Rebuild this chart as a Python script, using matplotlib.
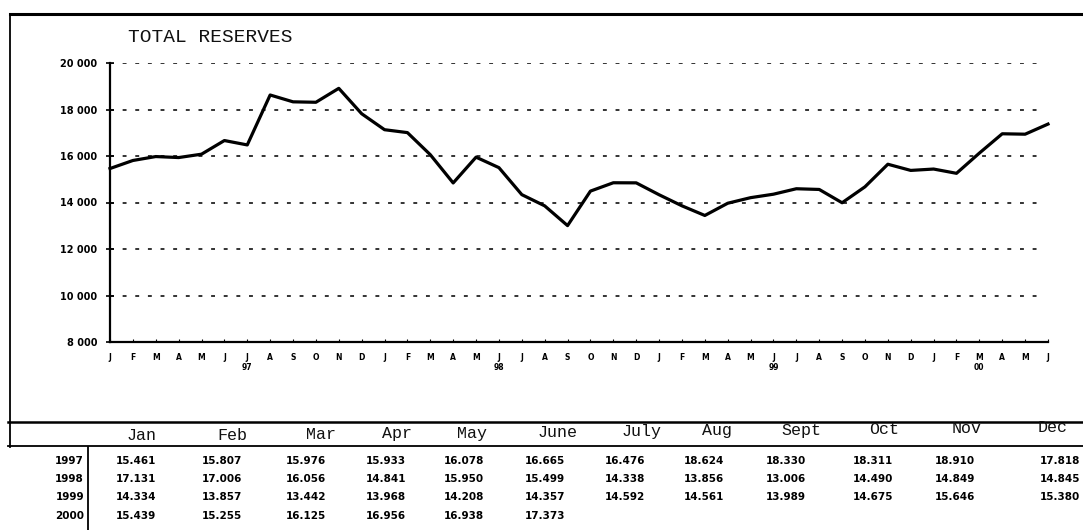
import matplotlib
matplotlib.use("Agg")
import matplotlib.pyplot as plt
from matplotlib.lines import Line2D

# ---------------- data ----------------
years = ["1997", "1998", "1999", "2000"]
months = ["Jan", "Feb", "Mar", "Apr", "May", "June", "July", "Aug", "Sept", "Oct", "Nov", "Dec"]
month_letters = ["J", "F", "M", "A", "M", "J", "J", "A", "S", "O", "N", "D"]
reserves_1997 = [15461, 15807, 15976, 15933, 16078, 16665, 16476, 18624, 18330, 18311, 18910, 17818]
reserves_1998 = [17131, 17006, 16056, 14841, 15950, 15499, 14338, 13856, 13006, 14490, 14849, 14845]
reserves_1999 = [14334, 13857, 13442, 13968, 14208, 14357, 14592, 14561, 13989, 14675, 15646, 15380]
reserves_2000 = [15439, 15255, 16125, 16956, 16938, 17373]
year_labels = ["97", "98", "99", "00"]
year_label_month_index = [6, 17, 29, 38]
y_ticks = [8000, 10000, 12000, 14000, 16000, 18000, 20000]
title = "TOTAL RESERVES"

series = reserves_1997 + reserves_1998 + reserves_1999 + reserves_2000
x = list(range(len(series)))
tick_letters = [month_letters[i % 12] for i in x]

W, H = 1083, 530
fig = plt.figure(figsize=(W / 100, H / 100), dpi=100)
fig.patch.set_facecolor("white")

def fx(px):
    return px / W

def fy(py):
    return 1 - py / H

ax = fig.add_axes([fx(110), fy(342), fx(1048) - fx(110), fy(63) - fy(342)])
ax.set_xlim(0, len(series) - 1)
ax.set_ylim(8000, 20000)
ax.plot(x, series, color="black", lw=2.3, solid_joinstyle="round", zorder=3, clip_on=False)

for v in y_ticks[1:]:
    ax.axhline(v, xmin=0, xmax=0.994, color="#333333", lw=1.4,
               linestyle=(0, (2, 4.5)), zorder=1)

for s in ["top", "right"]:
    ax.spines[s].set_visible(False)
ax.spines["left"].set_linewidth(1.6)
ax.spines["bottom"].set_linewidth(1.6)

ax.set_yticks(y_ticks)
ax.set_yticklabels([f"{v // 1000} 000" for v in y_ticks], fontsize=7,
                   fontweight="bold", family="DejaVu Sans")
ax.tick_params(axis="y", direction="inout", length=6, width=1.2, pad=6)

ax.set_xticks(x)
ax.set_xticklabels(tick_letters, fontsize=5.5, fontweight="bold", family="DejaVu Sans")
ax.tick_params(axis="x", direction="in", length=2, width=0.8, pad=8)

for lab, idx in zip(year_labels, year_label_month_index):
    ax.annotate(lab, xy=(idx, 8000), xycoords="data", xytext=(0, -18),
                textcoords="offset points", ha="center", va="center",
                fontsize=5.5, fontweight="bold", family="DejaVu Sans")

fig.text(fx(128), fy(37), title, family="Liberation Mono", fontsize=14,
         ha="left", va="center", color="#111111")

# frame lines
fig.add_artist(Line2D([fx(10), 1], [fy(14), fy(14)], color="black", lw=2.2))
fig.add_artist(Line2D([fx(10), fx(10)], [fy(14), fy(447)], color="black", lw=1.3))
fig.add_artist(Line2D([fx(8), 1], [fy(422), fy(422)], color="black", lw=1.8))
fig.add_artist(Line2D([fx(8), 1], [fy(446), fy(446)], color="black", lw=1.3))
fig.add_artist(Line2D([fx(88), fx(88)], [fy(447), 0], color="black", lw=1.3))

# table
header_x = [142, 232, 321, 397, 472, 558, 642, 717, 801, 884, 967, 1053]
value_x = [136, 222, 306, 386, 464, 545, 625, 704, 786, 873, 955, 1080]
for i, (m, hx) in enumerate(zip(months, header_x)):
    hy = 436 - 8 * i / 11
    fig.text(fx(hx), fy(hy), m, family="Liberation Mono", fontsize=12,
             ha="center", va="center", color="#111111")

rows = [reserves_1997, reserves_1998, reserves_1999, reserves_2000]
row_y = [461, 479, 497, 516]
for yr, vals, ry in zip(years, rows, row_y):
    fig.text(fx(84), fy(ry), yr, family="DejaVu Sans", fontweight="bold",
             fontsize=7.5, ha="right", va="center")
    for j, (v, vx) in enumerate(zip(vals, value_x)):
        fig.text(fx(vx), fy(ry), f"{v / 1000:.3f}", family="DejaVu Sans",
                 fontweight="bold", fontsize=7.5,
                 ha="right" if j == 11 else "center", va="center")

fig.savefig("out.png", dpi=100)
